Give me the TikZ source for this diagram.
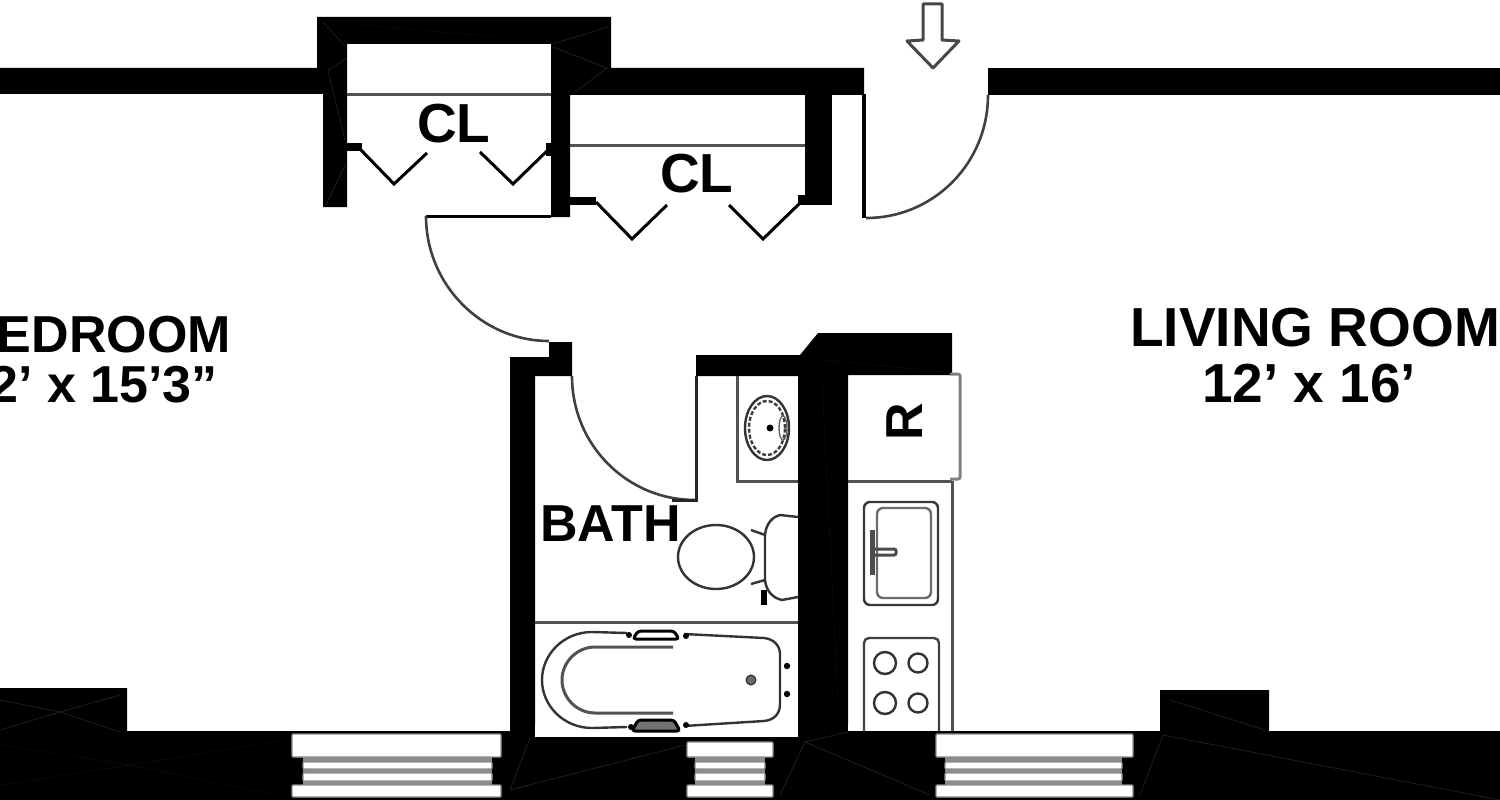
\documentclass[tikz,border=0pt]{standalone}
\usepackage{fontspec}
\setmainfont{Liberation Sans}
\tikzset{
  wall/.style={fill=black,draw=none},
  seam/.style={draw=black!88,line width=0.8pt},
  thin/.style={draw=black!80,line width=2.4pt},
  hair/.style={draw=black!68,line width=3pt},
  doorline/.style={draw=black,line width=3pt},
  arcline/.style={draw=black!75,line width=2.6pt},
  label/.style={inner sep=0pt,font=\bfseries\fontsize{52}{52}\selectfont,text=black},
  biglabel/.style={label,font=\bfseries\fontsize{55}{55}\selectfont},
  pane/.style={fill=white,draw=black!45,line width=1.4pt,rounded corners=1pt},
  fixture/.style={draw=black!78,line width=2.4pt,rounded corners=6pt}
}
\begin{document}
\begin{tikzpicture}[x=1pt,y=-1pt]
\useasboundingbox (0,0) rectangle (1500,800);
\clip (0,0) rectangle (1500,800);
\fill[white] (0,0) rectangle (1500,800);
% upper walls
\fill[wall] (0,68) -- (317,68) -- (317,17) -- (611,17) -- (611,68) -- (864,68) -- (864,95) -- (570,95) -- (570,217) -- (551,217) -- (551,44) -- (347,44) -- (347,207) -- (323,207) -- (323,94) -- (0,94) -- cycle;
\fill[wall] (805,94) rectangle (832,205);
\fill[wall] (988,68) rectangle (1500,95);
\fill[wall] (862,94) rectangle (866,218);
% bath and kitchen walls
\fill[wall] (510,735) -- (510,357) -- (549,357) -- (549,342) -- (572,342) -- (572,376) -- (535,376) -- (535,735) -- cycle;
\fill[wall] (696,355) -- (800,355) -- (818,333) -- (952,333) -- (952,375) -- (848,375) -- (848,735) -- (798,735) -- (798,376) -- (696,376) -- cycle;
% lower walls
\fill[wall] (0,688) -- (127,688) -- (127,731) -- (1160,731) -- (1160,690) -- (1269,690) -- (1269,731) -- (1500,731) -- (1500,800) -- (0,800) -- cycle;
% room floors cut into the lower wall
\fill[white] (535,725) rectangle (798,737);
\fill[white] (848,725) rectangle (862,730);
% windows
\foreach \xa/\xb/\xc/\xd/\ya in {292/501/303/492/734,687/773/695/765/742,936/1133/945/1122/734}{
  \fill[pane] (\xa,\ya) rectangle (\xb,757);
  \fill[black!45] (\xc,757) rectangle (\xd,785);
  \fill[pane] (\xc,762) rectangle (\xd,769);
  \fill[pane] (\xc,773) rectangle (\xd,781);
  \fill[pane] (\xa,785) rectangle (\xb,797);
}
% seams inside the solid walls
\draw[seam] (323,22) -- (345,46) (347,58) -- (328,70) -- (345,140) (345,165) -- (326,205);
\draw[seam] (553,44) -- (608,27) (553,47) -- (607,68) -- (575,92);
\draw[seam] (0,730) -- (60,712) -- (120,695) (0,700) -- (60,712) -- (120,732);
\draw[seam,dotted] (0,745) -- (130,765) -- (275,795) (0,785) -- (130,765) -- (285,740);
\draw[seam] (530,738) -- (510,790) -- (685,745);
\draw[seam] (780,795) -- (805,742) -- (930,795) (805,742) -- (848,732);
\draw[seam] (1140,795) -- (1163,735) -- (1500,800);
\draw[seam] (1170,700) -- (1265,730);
\draw[seam,dotted] (825,360) -- (945,372) (822,380) -- (838,700);
\draw[seam,dotted] (360,25) -- (500,37);
% closet shelves and doors
\draw[hair] (347,95) -- (551,95);
\draw[hair] (570,145) -- (805,145);
\fill[wall] (345,143) rectangle (362,151);
\fill[wall] (546,143) rectangle (552,156);
\fill[wall] (570,197) rectangle (596,205);
\fill[wall] (798,195) rectangle (806,205);
\draw[draw=black,line width=3pt] (360,149) -- (394,184) -- (427,153);
\draw[draw=black,line width=3pt] (480,152) -- (513,184) -- (548,150);
\draw[draw=black,line width=3pt] (596,202) -- (632,239) -- (667,205);
\draw[draw=black,line width=3pt] (729,205) -- (763,239) -- (800,203);
% door swings
\draw[arcline] (988,95) .. controls (988,163) and (934,218) .. (866,218);
\draw[doorline] (426,216) -- (551,216);
\draw[arcline] (426,216) .. controls (426,285) and (482,341) .. (549,341);
\draw[arcline] (572,376) .. controls (572,445) and (627,500) .. (695,500);
\draw[draw=black!85,line width=3pt] (696,376) -- (696,500) -- (672,500);
% entry arrow
\draw[draw=black!72,line width=3pt,line join=round] (933,68) -- (959,41) -- (942,40) -- (942,4) -- (923,4) -- (923,40) -- (907,41) -- cycle;
% vanity and basin
\draw[hair] (737,376) -- (737,481) -- (798,481);
\draw[thin] (767,428) circle[x radius=22pt,y radius=32pt];
\draw[draw=black!75,line width=2.4pt,dash pattern=on 4pt off 2pt] (767,428) circle[x radius=18pt,y radius=27pt];
\fill[black] (770,428) circle[radius=3.5pt];
\draw[draw=black!60,line width=1.4pt] (783,428) circle[x radius=4pt,y radius=12pt];
% toilet
\draw[thin] (716,557) circle[x radius=38pt,y radius=32pt];
\draw[thin] (798,517) -- (780,515) .. controls (772,517) and (766,524) .. (765,535) -- (765,580) .. controls (766,590) and (772,598) .. (782,600) -- (798,597);
\draw[thin] (751,530) -- (765,535) (751,584) -- (765,580);
\fill[black] (761,590) rectangle (767,605);
% tub
\draw[hair] (535,622) -- (798,622);
\draw[thin] (627,633) -- (592,632) .. controls (564,632) and (542,654) .. (542,680) .. controls (542,706) and (564,728) .. (592,728) -- (627,727);
\draw[thin] (684,634) -- (764,638) .. controls (774,639) and (780,646) .. (780,654) -- (780,704) .. controls (780,714) and (774,720) .. (764,721) -- (684,726);
\draw[hair] (673,647) -- (595,647) .. controls (577,647) and (562,662) .. (562,680) .. controls (562,698) and (577,713) .. (595,713) -- (673,713);
\draw[draw=black,line width=3pt,rounded corners=3pt] (638,631) -- (674,631) -- (679,639) -- (633,639) -- cycle;
\fill[black!55,draw=black,line width=3pt,rounded corners=3pt] (638,720) -- (674,720) -- (680,731) -- (632,731) -- cycle;
\fill[black] (629,635) circle[radius=3pt] (686,636) circle[radius=3pt] (631,727) circle[radius=3pt] (686,725) circle[radius=3pt];
\fill[black] (787,666) circle[radius=3.2pt] (787,694) circle[radius=3.2pt];
\fill[black!60,draw=black!85,line width=1pt] (751,680) circle[radius=5pt];
% refrigerator
\draw[hair] (848,481) -- (952,481);
\draw[draw=black!50,line width=3pt,rounded corners=2pt] (950,374) -- (960,374) -- (960,479) -- (950,479);
\draw[hair] (952,481) -- (952,731);
% kitchen sink
\draw[fixture] (864,502) rectangle (938,605);
\draw[draw=black!58,line width=2.4pt,rounded corners=6pt] (877,508) rectangle (931,598);
\draw[draw=black!70,line width=5pt] (872,530) -- (872,575);
\draw[draw=black!70,line width=3pt,rounded corners=2pt] (873,549) -- (896,549) -- (896,555) -- (873,555);
% range
\draw[draw=black!75,line width=2.4pt,rounded corners=5pt] (864,731) -- (864,638) -- (939,638) -- (939,731);
\draw[thin] (885,663) circle[radius=11pt] (885,703) circle[radius=11pt] (918,663) circle[radius=9.5pt] (918,703) circle[radius=9.5pt];
% labels
\node[label,anchor=base east] (bedroom) at (231,352) {BEDROOM};
\node[label,anchor=base east] (bedsize) at (218,402) {12’ x 15’3”};
\node[biglabel,anchor=base west] (living) at (1130,346) {LIVING ROOM};
\node[biglabel,anchor=base west] (livsize) at (1202,402) {12’ x 16’};
\node[biglabel,anchor=base west] (cla) at (417,142) {CL};
\node[biglabel,anchor=base west] (clb) at (660,192) {CL};
\node[label,anchor=base west] (bath) at (540,541) {BATH};
\node[label,rotate=90,anchor=center] (fridge) at (905,422) {R};
\end{tikzpicture}
\end{document}
